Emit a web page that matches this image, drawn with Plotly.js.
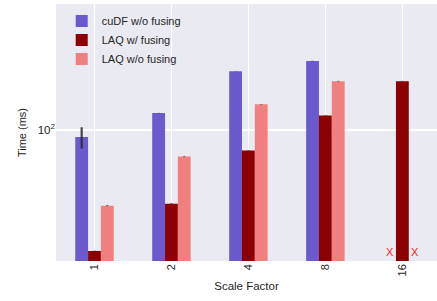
<!DOCTYPE html>
<html>
<head>
<meta charset="utf-8">
<script src="https://cdn.plot.ly/plotly-3.0.1.min.js"></script>
<style>html,body{margin:0;padding:0;background:#fff}#chart{width:437px;height:301px}</style>
</head>
<body>
<div id="chart"></div>
<script>
const scaleFactors = ['1', '2', '4', '8', '16'];
const cudfNoFusing = [91, 126, 222, 255, null];
const laqFusing = [19.5, 37, 76, 122, 194];
const laqNoFusing = [36, 70, 142, 194, null];
const cudfErr = [13, 0.3, 0.5, 0.5, 0];
const laqFusingErr = [0.1, 0.2, 0.3, 0.5, 0.8];
const laqNoFusingErr = [0.2, 0.3, 0.5, 0.8, 0];
const seriesNames = ['cuDF w/o fusing', 'LAQ w/ fusing', 'LAQ w/o fusing'];
const seriesColors = ['#6A5ACD', '#8B0000', '#F08080'];

const allValues = [cudfNoFusing, laqFusing, laqNoFusing];
const allErr = [cudfErr, laqFusingErr, laqNoFusingErr];

const traces = allValues.map((vals, i) => ({
  type: 'bar',
  name: seriesNames[i],
  x: scaleFactors,
  y: vals,
  marker: {color: seriesColors[i], line: {width: 0}},
  error_y: {type: 'data', array: allErr[i], visible: true, color: 'rgba(40,40,40,0.85)', thickness: 2.2, width: 0},
  hoverinfo: 'none'
}));

// "X" markers for missing runs
const barW = 0.5 / 3;
const annotations = [];
allValues.forEach((vals, s) => {
  vals.forEach((v, c) => {
    if (v === null) {
      annotations.push({
        x: c + (s - 1) * barW, xref: 'x', y: 0, yref: 'paper',
        yanchor: 'bottom', yshift: 1, text: 'X', showarrow: false,
        font: {color: '#FF2020', size: 11, family: 'Liberation Sans, Arial, sans-serif'}
      });
    }
  });
});

const font = {family: 'Liberation Sans, Arial, sans-serif', size: 11, color: '#262626'};
const layout = {
  width: 437, height: 301,
  margin: {l: 56, r: 0, t: 4, b: 40},
  paper_bgcolor: '#ffffff',
  plot_bgcolor: '#EAEAF2',
  font: font,
  barmode: 'group',
  bargap: 0.5,
  bargroupgap: 0,
  showlegend: true,
  legend: {x: 0.015, y: 0.99, xanchor: 'left', yanchor: 'top', bgcolor: 'rgba(0,0,0,0)',
           font: {family: font.family, size: 11, color: '#262626'}, tracegroupgap: 0, itemwidth: 30},
  xaxis: {
    type: 'category',
    range: [-0.5, 4.45],
    showgrid: true, gridcolor: '#ffffff', gridwidth: 1.5,
    zeroline: false, showline: false, ticks: '',
    tickangle: -90,
    tickfont: {size: 11, color: '#262626'},
    title: {text: 'Scale Factor', font: {size: 11.5, color: '#262626'}, standoff: 6}
  },
  yaxis: {
    type: 'log',
    range: [1.2312, 2.7412],
    tickvals: [100], ticktext: ['10<sup>2</sup>'],
    showgrid: true, gridcolor: '#ffffff', gridwidth: 1.5,
    zeroline: false, showline: false, ticks: '',
    tickfont: {size: 11.5, color: '#262626'},
    title: {text: 'Time (ms)', font: {size: 11, color: '#262626'}, standoff: 8}
  },
  annotations: annotations
};

Plotly.newPlot('chart', traces, layout, {displayModeBar: false, staticPlot: true});
</script>
</body>
</html>
